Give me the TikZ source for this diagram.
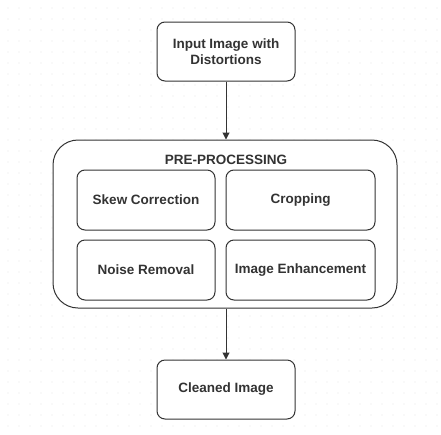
\documentclass[tikz,border=0pt]{standalone}
\usepackage{fontspec}
\setmainfont{Liberation Sans}
\usetikzlibrary{arrows.meta}
\definecolor{ink}{HTML}{333333}
\definecolor{dotc}{HTML}{E8E8E8}
\begin{document}
\begin{tikzpicture}[x=1pt,y=-1pt,
  box/.style={draw=ink,line width=1pt,rounded corners=8pt,fill=white,text=ink,
    font=\fontsize{13.5}{16}\selectfont\bfseries,align=center,inner sep=0pt},
  conn/.style={draw=ink,line width=1pt,-{Triangle[length=7pt,width=7pt]}}]
\useasboundingbox (0,0) rectangle (441,434);
\fill[white] (0,0) rectangle (441,434);
\foreach \i in {0,...,39}{\foreach \j in {0,...,38}{
  \fill[dotc] (8+11*\i,8+11*\j) circle (0.7);}}
\node[box,minimum width=138pt,minimum height=59pt] (in) at (226,51.5) {Input Image with\\Distortions};
\node[draw=ink,line width=1pt,rounded corners=25pt,fill=white,minimum width=344pt,minimum height=168pt,inner sep=0pt] (pre) at (225,224) {};
\node[text=ink,font=\fontsize{13.5}{16}\selectfont\bfseries] (title) at (226,160) {PRE-PROCESSING};
\node[box,minimum width=138pt,minimum height=60pt] (skew) at (146,200) {Skew Correction};
\node[box,minimum width=149pt,minimum height=60pt] (crop) at (300.5,200) {Cropping};
\node[box,minimum width=138pt,minimum height=60pt] (noise) at (146,270) {Noise Removal};
\node[box,minimum width=149pt,minimum height=60pt] (enh) at (300.5,270) {Image Enhancement};
\node[box,minimum width=138pt,minimum height=59pt] (out) at (226,389.5) {Cleaned Image};
\draw[conn] (in.south) -- (in.south |- pre.north);
\draw[conn] (out.north |- pre.south) -- (out.north);
\end{tikzpicture}
\end{document}
